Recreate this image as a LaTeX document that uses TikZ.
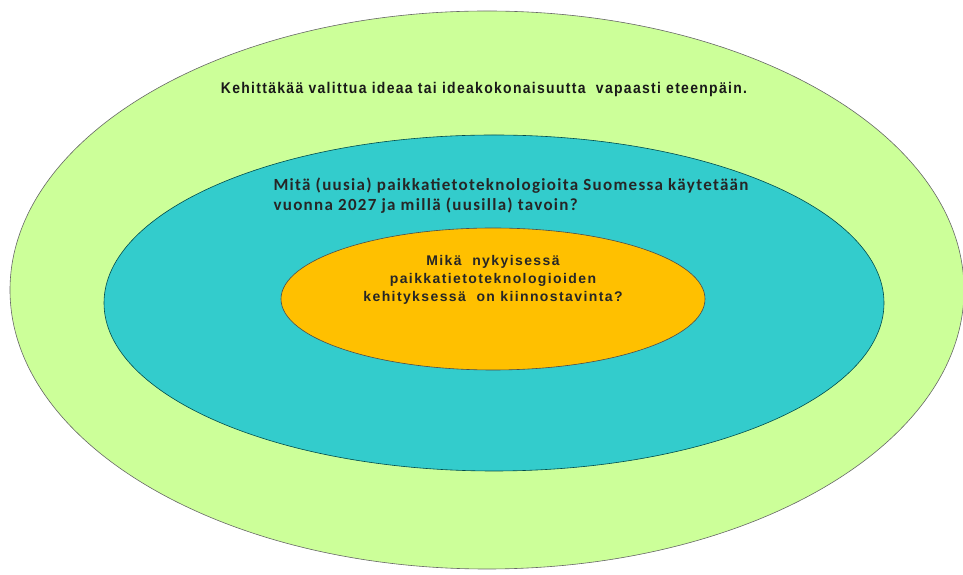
\documentclass[tikz,border=0pt]{standalone}
\usepackage{fontspec}
\setmainfont{Liberation Sans}
\newfontfamily\narrowfont[FakeStretch=0.90,LetterSpace=8.5]{Liberation Sans}
\newfontfamily\calfont[LetterSpace=7.6]{Carlito}
\newfontfamily\innerfont[LetterSpace=10]{Liberation Sans}
\usetikzlibrary{shapes.geometric}
\definecolor{outerg}{HTML}{CCFF99}
\definecolor{midteal}{HTML}{33CCCC}
\definecolor{innero}{HTML}{FFC000}
\tikzset{
  ring/.style={ellipse, draw=#1, line width=0.6pt, inner sep=0pt},
}
\begin{document}
\begin{tikzpicture}[x=1pt,y=1pt]
\useasboundingbox (0,0) rectangle (963,575);
\node[ring=gray!80!black, fill=outerg, minimum width=954pt, minimum height=558pt] (outer) at (487,285) {};
\node[ring=teal!60!black, fill=midteal, minimum width=780pt, minimum height=336pt] (mid) at (494,272) {};
\node[ring=black!70, fill=innero, minimum width=424pt, minimum height=142pt] (inner) at (493,276) {};
\node[font=\narrowfont\bfseries\fontsize{15.5}{18}\selectfont, text=black!90] (t1) at (484,485) {Kehittäkää valittua ideaa tai ideakokonaisuutta\ \ vapaasti eteenpäin.};
\node[font=\calfont\bfseries\fontsize{17}{20}\selectfont, text=black!85, align=left, anchor=west] (t2) at (270,379) {Mitä (uusia) paikkatietoteknologioita Suomessa käytetään\\vuonna 2027 ja millä (uusilla) tavoin?};
\node[font=\innerfont\bfseries\fontsize{14}{18}\selectfont, text=black!85, align=center] (t3) at (493,295) {Mikä\ \ nykyisessä\\paikkatietoteknologioiden\\kehityksessä\ \ on kiinnostavinta?};
\end{tikzpicture}
\end{document}
